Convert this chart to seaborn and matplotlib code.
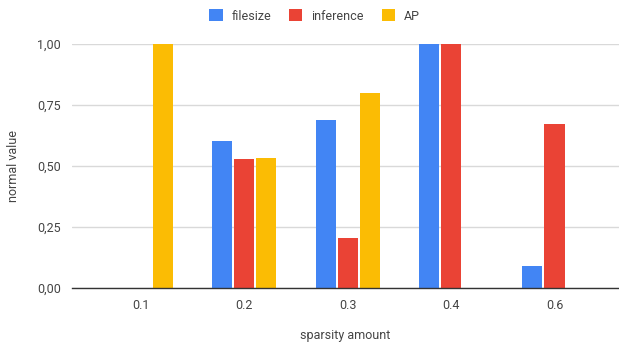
import matplotlib
matplotlib.use("Agg")
import matplotlib.pyplot as plt
import seaborn as sns
import pandas as pd
from matplotlib.ticker import FuncFormatter

# values
sparsity = ["0.1", "0.2", "0.3", "0.4", "0.6"]
filesize = [0.0, 0.604, 0.689, 1.0, 0.09]
inference = [0.0, 0.531, 0.206, 1.0, 0.672]
ap = [1.0, 0.535, 0.80, 0.0, 0.0]
series = ["filesize", "inference", "AP"]
colors = ["#4285F4", "#EA4335", "#FBBC04"]

rows = []
for name, vals in zip(series, [filesize, inference, ap]):
    for s, v in zip(sparsity, vals):
        rows.append({"sparsity amount": s, "series": name, "value": v})
df = pd.DataFrame(rows)

sns.set_style("white")
plt.rcParams["font.family"] = ["Roboto", "DejaVu Sans"]
text_color = "#444444"

fig = plt.figure(figsize=(6.19, 3.45), dpi=100)
ax = fig.add_axes([0.1163, 0.165, 0.8837, 0.707])

sns.barplot(data=df, x="sparsity amount", y="value", hue="series",
            hue_order=series, palette=colors, order=sparsity,
            width=0.64, gap=0.09, linewidth=0, saturation=1,
            legend=True, ax=ax)

ax.set_ylim(0, 1)
ax.set_xlim(-0.667, 4.624)
ax.set_yticks([0, 0.25, 0.5, 0.75, 1.0])
ax.yaxis.set_major_formatter(FuncFormatter(lambda v, p: f"{v:.2f}".replace(".", ",")))
ax.grid(axis="y", color="#d9d9d9", linewidth=1)
ax.set_axisbelow(True)
for side in ["top", "right", "left"]:
    ax.spines[side].set_visible(False)
ax.spines["bottom"].set_color("#333333")
ax.spines["bottom"].set_linewidth(1)
ax.tick_params(axis="both", length=0, labelsize=9, colors=text_color, pad=8)
ax.set_xlabel("sparsity amount", fontsize=9, color=text_color, labelpad=12)
ax.set_ylabel("normal value", fontsize=9, color=text_color, labelpad=12)

handles, labels = ax.get_legend_handles_labels()
ax.get_legend().remove()
fig.legend(handles, labels, loc="center", bbox_to_anchor=(314.5 / 619, 1 - 16 / 345),
           ncol=3, frameon=False, fontsize=9, handlelength=1.05, handleheight=1.05,
           columnspacing=1.45, handletextpad=0.7, labelcolor=text_color)

fig.savefig("out.png", dpi=100)
